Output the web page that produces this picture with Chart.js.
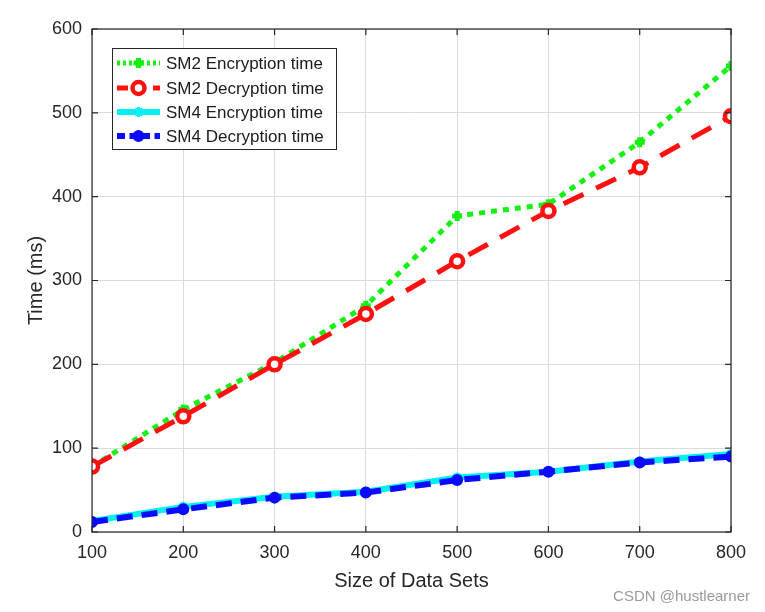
<!DOCTYPE html>
<html>
<head>
<meta charset="utf-8">
<script src="https://cdn.jsdelivr.net/npm/chart.js@4/dist/chart.umd.min.js"></script>
<style>
html,body{margin:0;padding:0;background:#fff;}
#wrap{width:765px;height:612px;position:relative;}
</style>
</head>
<body>
<div id="wrap"><canvas id="c" width="765" height="612"></canvas></div>
<script>
const sizes = [100, 200, 300, 400, 500, 600, 700, 800];
const sm2Enc = [78, 146, 202, 270, 377, 391, 465, 556];
const sm2Dec = [78, 138, 200, 260, 323, 383, 435, 496];
const sm4Enc = [13, 30, 42, 48, 65, 72, 84, 93];
const sm4Dec = [12, 27, 41, 47, 62, 72, 83, 90];
const seriesLabels = ['SM2 Encryption time', 'SM2 Decryption time', 'SM4 Encryption time', 'SM4 Decryption time'];
const xTitle = 'Size of Data Sets';
const yTitle = 'Time (ms)';
const watermark = 'CSDN @hustlearner';

const FONT = '"Liberation Sans", Arial, sans-serif';
const toPts = arr => arr.map((v, i) => ({x: sizes[i], y: v}));

const styles = [
  {color: '#14f014', dash: [6, 6], width: 5, pointStyle: 'cross', radius: 5, pbw: 5, bg: '#14f014', order: 4},
  {color: '#ff1010', dash: [22, 14], width: 5, pointStyle: 'circle', radius: 6, pbw: 4.5, bg: '#ffffff', order: 3},
  {color: '#00f0f0', dash: [], width: 6, pointStyle: 'star', radius: 5, pbw: 3, bg: '#00f0f0', order: 2},
  {color: '#0a0aff', dash: [16, 9], width: 6, pointStyle: 'circle', radius: 5, pbw: 2, bg: '#0a0aff', order: 1}
];
const seriesData = [sm2Enc, sm2Dec, sm4Enc, sm4Dec];

const datasets = seriesData.map((d, i) => ({
  label: seriesLabels[i],
  data: toPts(d),
  borderColor: styles[i].color,
  backgroundColor: styles[i].bg,
  borderWidth: styles[i].width,
  borderDash: styles[i].dash,
  pointStyle: styles[i].pointStyle,
  pointRadius: styles[i].radius,
  pointBorderWidth: styles[i].pbw,
  pointBorderColor: styles[i].color,
  pointBackgroundColor: styles[i].bg,
  tension: 0,
  order: styles[i].order
}));

const framePlugin = {
  id: 'frame',
  afterDraw(chart) {
    const ctx = chart.ctx;
    const a = chart.chartArea;
    ctx.save();
    ctx.strokeStyle = '#262626';
    ctx.lineWidth = 1.2;
    ctx.setLineDash([]);
    ctx.strokeRect(a.left, a.top, a.right - a.left, a.bottom - a.top);
    const xs = chart.scales.x, ys = chart.scales.y;
    ctx.beginPath();
    xs.ticks.forEach(t => {
      const px = xs.getPixelForValue(t.value);
      ctx.moveTo(px, a.bottom); ctx.lineTo(px, a.bottom - 6);
      ctx.moveTo(px, a.top); ctx.lineTo(px, a.top + 6);
    });
    ys.ticks.forEach(t => {
      const py = ys.getPixelForValue(t.value);
      ctx.moveTo(a.left, py); ctx.lineTo(a.left + 6, py);
      ctx.moveTo(a.right, py); ctx.lineTo(a.right - 6, py);
    });
    ctx.stroke();

    // legend box
    const bx = 112, by = 48, bw = 224, bh = 101;
    ctx.fillStyle = '#ffffff';
    ctx.fillRect(bx, by, bw, bh);
    ctx.strokeStyle = '#262626';
    ctx.lineWidth = 1;
    ctx.strokeRect(bx + 0.5, by + 0.5, bw, bh);
    const rowY = [63, 88, 112, 136];
    chart.data.datasets.forEach((ds, i) => {
      const y = rowY[i];
      const x1 = 117, x2 = 160, xm = 138.5;
      ctx.save();
      ctx.strokeStyle = ds.borderColor;
      ctx.lineWidth = ds.borderWidth;
      ctx.setLineDash(ds.borderDash.length ? ds.borderDash.map(v => v * 0.5) : []);
      ctx.beginPath();
      ctx.moveTo(x1, y); ctx.lineTo(x2, y);
      ctx.stroke();
      ctx.setLineDash([]);
      ctx.fillStyle = ds.pointBackgroundColor;
      ctx.strokeStyle = ds.pointBorderColor;
      ctx.lineWidth = ds.pointBorderWidth;
      Chart.helpers.drawPoint(ctx, {pointStyle: ds.pointStyle, radius: ds.pointRadius, borderWidth: ds.pointBorderWidth, rotation: 0}, xm, y);
      ctx.restore();
      ctx.fillStyle = '#1a1a1a';
      ctx.font = '17px ' + FONT;
      ctx.textBaseline = 'middle';
      ctx.textAlign = 'left';
      ctx.fillText(ds.label, 166, y + 1);
    });

    ctx.font = '15px ' + FONT;
    ctx.fillStyle = '#9a9a9a';
    ctx.textAlign = 'right';
    ctx.textBaseline = 'middle';
    ctx.fillText(watermark, 750, 597);
    ctx.restore();
  }
};

new Chart(document.getElementById('c'), {
  type: 'line',
  data: {datasets},
  plugins: [framePlugin],
  options: {
    responsive: false,
    animation: false,
    devicePixelRatio: 1,
    layout: {padding: {top: 29, right: 34, left: 0, bottom: 0}},
    plugins: {legend: {display: false}, tooltip: {enabled: false}},
    scales: {
      x: {
        type: 'linear',
        min: 100, max: 800,
        ticks: {stepSize: 100, color: '#262626', font: {size: 18, family: FONT}, padding: 10},
        grid: {color: '#dcdcdc', lineWidth: 1, drawTicks: false},
        border: {display: false},
        title: {display: true, text: xTitle, color: '#262626', font: {size: 20, family: FONT}, padding: {top: 0, bottom: 19}},
        afterFit(s) { s.height = 80; }
      },
      y: {
        min: 0, max: 600,
        ticks: {stepSize: 100, color: '#262626', font: {size: 18, family: FONT}, padding: 10},
        grid: {color: '#dcdcdc', lineWidth: 1, drawTicks: false},
        border: {display: false},
        title: {display: true, text: yTitle, color: '#262626', font: {size: 20, family: FONT}, padding: {top: 24, bottom: 0}},
        afterFit(s) { s.width = 92; }
      }
    }
  }
});
</script>
</body>
</html>
